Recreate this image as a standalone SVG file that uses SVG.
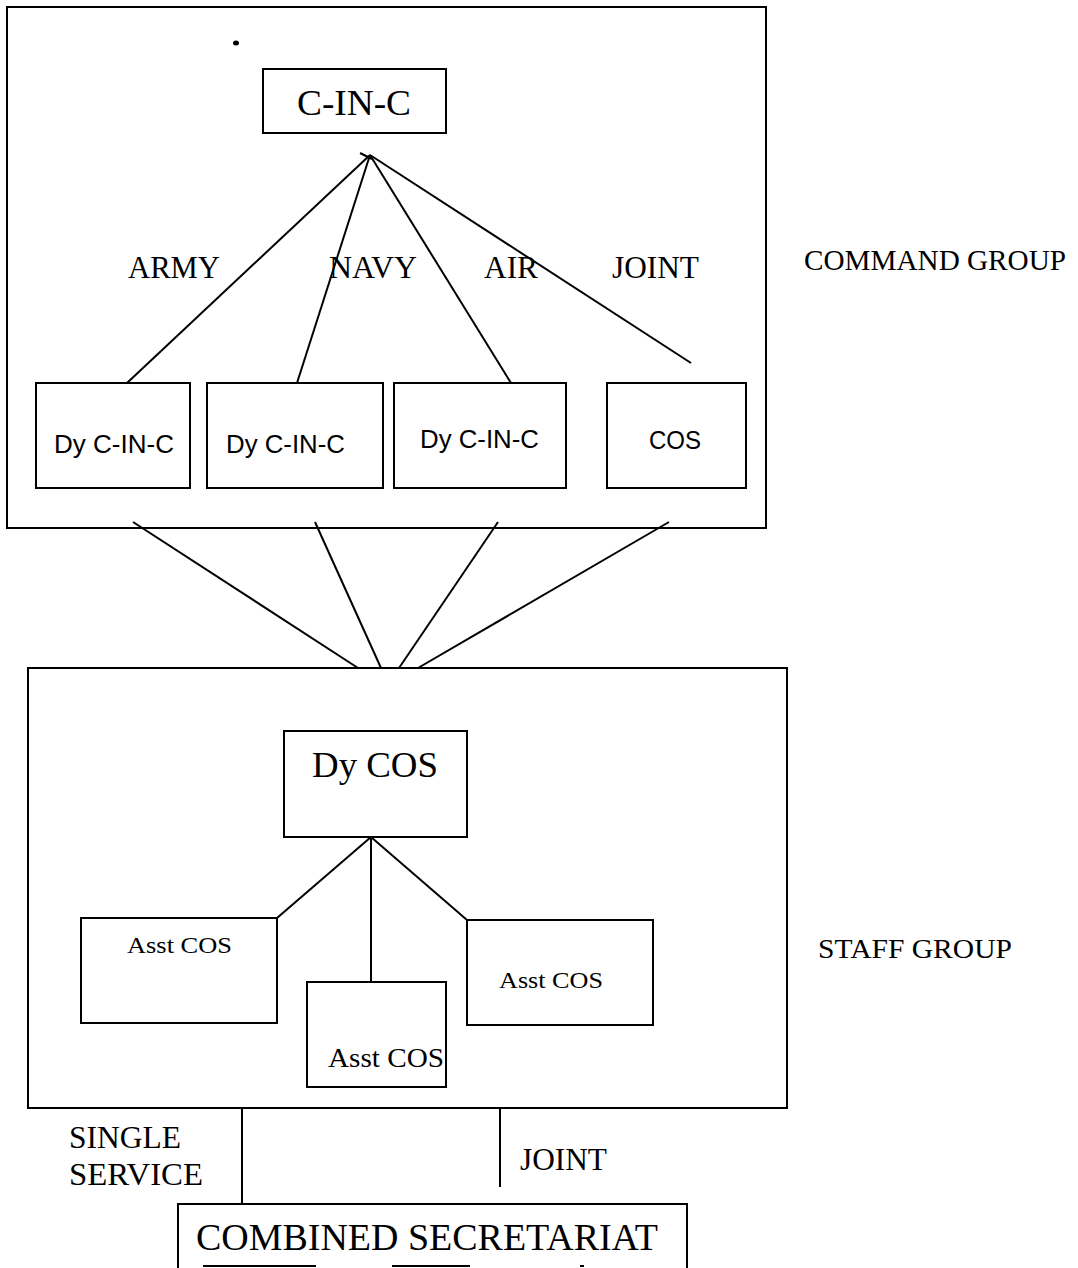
<svg xmlns="http://www.w3.org/2000/svg" width="1078" height="1268" viewBox="0 0 1078 1268">
<style>
.b{fill:none;stroke:#000;stroke-width:2}
line{stroke:#000;stroke-width:2}
.t{font-family:"Liberation Serif","Times New Roman",serif;fill:#000}
.s{font-family:"Liberation Sans",Arial,sans-serif;fill:#000}
</style>
<rect x="0" y="0" width="1078" height="1268" fill="#fff"/>
<g id="command-group">
<rect class="b" x="7" y="7" width="759" height="521"/>
<ellipse cx="236" cy="43" rx="3" ry="2.5" fill="#000"/>
</g>
<g id="cinc"><rect class="b" x="263" y="69" width="183" height="64"/><text class="t" x="297" y="115" font-size="36" textLength="114" lengthAdjust="spacingAndGlyphs">C-IN-C</text></g>
<g id="dy1"><rect class="b" x="36" y="383" width="154" height="105"/><text class="s" x="54" y="453" font-size="25" textLength="120" lengthAdjust="spacingAndGlyphs">Dy C-IN-C</text></g>
<g id="dy2"><rect class="b" x="207" y="383" width="176" height="105"/><text class="s" x="226" y="453" font-size="25" textLength="119" lengthAdjust="spacingAndGlyphs">Dy C-IN-C</text></g>
<g id="dy3"><rect class="b" x="394" y="383" width="172" height="105"/><text class="s" x="420" y="448" font-size="25" textLength="119" lengthAdjust="spacingAndGlyphs">Dy C-IN-C</text></g>
<g id="cos"><rect class="b" x="607" y="383" width="139" height="105"/><text class="s" x="649" y="449" font-size="25" textLength="52" lengthAdjust="spacingAndGlyphs">COS</text></g>
<g id="labels-top">
<text class="t" x="128" y="278" font-size="32" textLength="92" lengthAdjust="spacingAndGlyphs">ARMY</text>
<text class="t" x="329" y="278" font-size="32" textLength="88" lengthAdjust="spacingAndGlyphs">NAVY</text>
<text class="t" x="484" y="278" font-size="32" textLength="54" lengthAdjust="spacingAndGlyphs">AIR</text>
<text class="t" x="612" y="278" font-size="32" textLength="87" lengthAdjust="spacingAndGlyphs">JOINT</text>
<text class="t" x="804" y="270" font-size="29" textLength="262" lengthAdjust="spacingAndGlyphs">COMMAND GROUP</text>
</g>
<g id="staff-group"><rect class="b" x="28" y="668" width="759" height="440"/></g>
<g id="dycos"><rect class="b" x="284" y="731" width="183" height="106"/><text class="t" x="312" y="777" font-size="36" textLength="126" lengthAdjust="spacingAndGlyphs">Dy COS</text></g>
<g id="asst1"><rect class="b" x="81" y="918" width="196" height="105"/><text class="t" x="127" y="953" font-size="23" textLength="105" lengthAdjust="spacingAndGlyphs">Asst COS</text></g>
<g id="asst2"><rect class="b" x="307" y="982" width="139" height="105"/><text class="t" x="328" y="1067" font-size="28" textLength="116" lengthAdjust="spacingAndGlyphs">Asst COS</text></g>
<g id="asst3"><rect class="b" x="467" y="920" width="186" height="105"/><text class="t" x="499" y="988" font-size="23" textLength="104" lengthAdjust="spacingAndGlyphs">Asst COS</text></g>
<g id="labels-staff">
<text class="t" x="818" y="958" font-size="27" textLength="194" lengthAdjust="spacingAndGlyphs">STAFF GROUP</text>
<text class="t" x="69" y="1148" font-size="32" textLength="112" lengthAdjust="spacingAndGlyphs">SINGLE</text>
<text class="t" x="69" y="1185" font-size="32" textLength="134" lengthAdjust="spacingAndGlyphs">SERVICE</text>
<text class="t" x="520" y="1170" font-size="31" textLength="87" lengthAdjust="spacingAndGlyphs">JOINT</text>
</g>
<g id="secretariat"><rect class="b" x="178" y="1204" width="509" height="80"/><text class="t" x="196" y="1250" font-size="38" textLength="462" lengthAdjust="spacingAndGlyphs">COMBINED SECRETARIAT</text>
<line x1="203" y1="1266" x2="316" y2="1266"/><line x1="392" y1="1266" x2="470" y2="1266"/><line x1="580" y1="1266" x2="584" y2="1266"/></g>
<g id="connectors">
<line x1="370" y1="155" x2="127" y2="383"/>
<line x1="370" y1="155" x2="297" y2="383"/>
<line x1="370" y1="155" x2="511" y2="383"/>
<line x1="370" y1="155" x2="691" y2="363"/>
<line x1="360" y1="153" x2="372" y2="159"/>
<line x1="133" y1="522" x2="358" y2="668"/>
<line x1="315" y1="522" x2="381" y2="668"/>
<line x1="498" y1="522" x2="399" y2="668"/>
<line x1="669" y1="522" x2="418" y2="668"/>
<line x1="371" y1="837" x2="277" y2="918"/>
<line x1="371" y1="837" x2="371" y2="982"/>
<line x1="371" y1="837" x2="467" y2="920"/>
<line x1="242" y1="1108" x2="242" y2="1204"/>
<line x1="500" y1="1108" x2="500" y2="1187"/>
</g>
</svg>
